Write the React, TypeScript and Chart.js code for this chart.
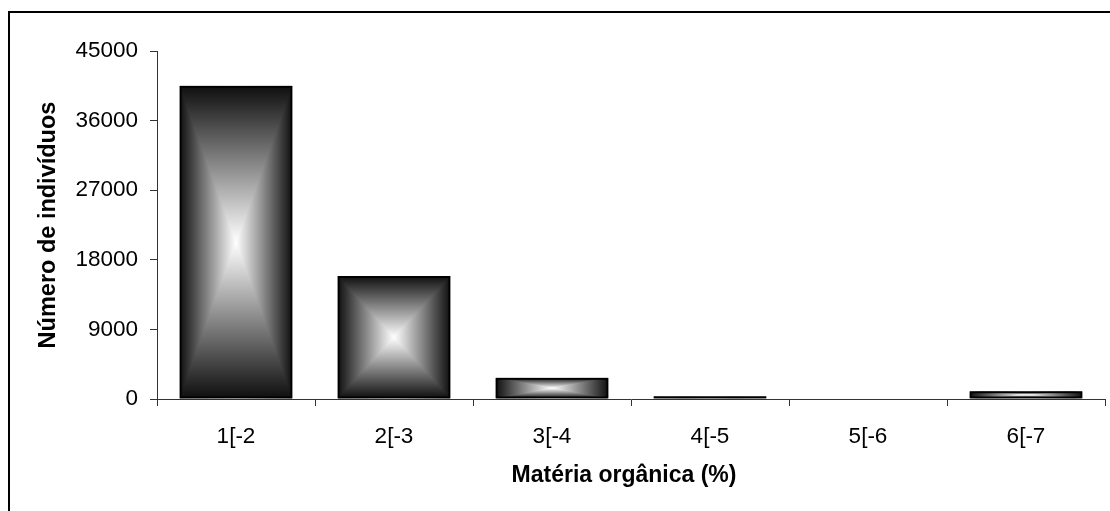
import React, { useEffect, useRef } from "react";
import { Chart, registerables } from "chart.js";

Chart.register(...registerables);

// Number of individuals per organic-matter class
const categories = ["1[-2", "2[-3", "3[-4", "4[-5", "5[-6", "6[-7"];
const individuals = [40500, 15900, 2750, 350, 0, 1000];
const yTickValues = [0, 9000, 18000, 27000, 36000, 45000];
const xTitle = "Matéria orgânica (%)";
const yTitle = "Número de indivíduos";

const FONT = "'Liberation Sans', Arial, sans-serif";
const AXIS = "#333333";
const EDGE = "#0e0e0e";
const CENTER = "#ffffff";

// Rectangular "from centre" gradient: dark at every edge, white in the middle.
function paintRectGradient(ctx: CanvasRenderingContext2D, l: number, t: number, r: number, b: number) {
  const w = r - l;
  const h = b - t;
  if (w <= 0 || h <= 0) return;
  const cx = (l + r) / 2;
  const cy = (t + b) / 2;
  ctx.save();
  ctx.beginPath();
  ctx.rect(l, t, w, h);
  ctx.clip();

  const hg = ctx.createLinearGradient(l, 0, r, 0);
  hg.addColorStop(0, EDGE);
  hg.addColorStop(0.5, CENTER);
  hg.addColorStop(1, EDGE);
  ctx.fillStyle = hg;
  ctx.fillRect(l, t, w, h);

  const vg = ctx.createLinearGradient(0, t, 0, b);
  vg.addColorStop(0, EDGE);
  vg.addColorStop(0.5, CENTER);
  vg.addColorStop(1, EDGE);
  ctx.fillStyle = vg;
  ctx.beginPath();
  ctx.moveTo(l, t);
  ctx.lineTo(r, t);
  ctx.lineTo(cx, cy);
  ctx.closePath();
  ctx.fill();
  ctx.beginPath();
  ctx.moveTo(l, b);
  ctx.lineTo(r, b);
  ctx.lineTo(cx, cy);
  ctx.closePath();
  ctx.fill();
  ctx.restore();
}

const barGradient = {
  id: "barGradient",
  beforeDatasetsDraw(chart: any) {
    const ctx = chart.ctx as CanvasRenderingContext2D;
    chart.getDatasetMeta(0).data.forEach((el: any) => {
      const { x, y, base, width } = el.getProps(["x", "y", "base", "width"], true);
      paintRectGradient(ctx, x - width / 2, Math.min(y, base), x + width / 2, Math.max(y, base));
    });
  },
};

// Outer frame of the chart object (top and left edges)
const frame = {
  id: "frame",
  beforeDraw(chart: any) {
    const ctx = chart.ctx as CanvasRenderingContext2D;
    ctx.save();
    ctx.fillStyle = "#000";
    ctx.fillRect(8, 11, chart.width - 8, 2);
    ctx.fillRect(8, 11, 2, chart.height - 11);
    ctx.restore();
  },
};

// Category-axis title, centred under the whole chart body
const xAxisTitle = {
  id: "xAxisTitle",
  afterDraw(chart: any) {
    const ctx = chart.ctx as CanvasRenderingContext2D;
    ctx.save();
    ctx.fillStyle = "#000";
    ctx.font = `bold 23px ${FONT}`;
    ctx.textAlign = "center";
    ctx.textBaseline = "middle";
    ctx.fillText(xTitle, 624, 476);
    ctx.restore();
  },
};

export default function App() {
  const canvasRef = useRef<HTMLCanvasElement | null>(null);

  useEffect(() => {
    document.body.style.margin = "0";
    const canvas = canvasRef.current;
    if (!canvas) return;
    const chart = new Chart(canvas, {
      type: "bar",
      data: {
        labels: categories,
        datasets: [
          {
            data: individuals,
            backgroundColor: "rgba(0,0,0,0)",
            borderColor: "#000",
            borderWidth: 2,
            borderSkipped: false,
            barPercentage: 0.715,
            categoryPercentage: 1,
          },
        ],
      },
      options: {
        responsive: false,
        animation: false,
        devicePixelRatio: 1,
        layout: { padding: { top: 51, right: 5, bottom: 0, left: 8 } },
        plugins: {
          legend: { display: false },
          tooltip: { enabled: false },
        },
        scales: {
          x: {
            grid: {
              display: true,
              drawOnChartArea: false,
              drawTicks: true,
              tickLength: 7,
              tickColor: AXIS,
              offset: true,
            },
            border: { display: true, color: AXIS, width: 1 },
            ticks: { color: "#000", font: { family: FONT, size: 22.5 }, padding: 17 },
            afterFit: (s: any) => {
              s.height = 112;
            },
          },
          y: {
            min: 0,
            max: 45000,
            afterBuildTicks: (s: any) => {
              s.ticks = yTickValues.map((v) => ({ value: v }));
            },
            grid: {
              display: true,
              drawOnChartArea: false,
              drawTicks: true,
              tickLength: 7,
              tickColor: AXIS,
            },
            border: { display: true, color: AXIS, width: 1 },
            ticks: {
              color: "#000",
              font: { family: FONT, size: 22.5 },
              padding: 12,
              callback: (v: any) => String(v),
            },
            title: {
              display: true,
              text: yTitle,
              color: "#000",
              font: { family: FONT, size: 23.5, weight: "bold" },
              padding: { top: 26, bottom: 0 },
            },
            afterFit: (s: any) => {
              s.width = 149;
            },
          },
        },
      },
      plugins: [frame, barGradient, xAxisTitle],
    } as any);
    return () => chart.destroy();
  }, []);

  return <canvas ref={canvasRef} width={1110} height={511} style={{ display: "block" }} />;
}
